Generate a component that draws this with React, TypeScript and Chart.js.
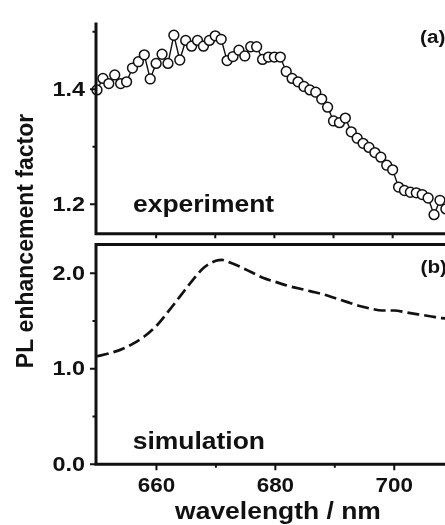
import React, { useEffect, useRef } from 'react';
import { Chart, registerables } from 'chart.js';

Chart.register(...registerables);

// Panel (a): measured PL enhancement, one reading per nm
const expWavelength = [
  650, 651, 652, 653, 654, 655, 656, 657, 658, 659,
  660, 661, 662, 663, 664, 665, 666, 667, 668, 669,
  670, 671, 672, 673, 674, 675, 676, 677, 678, 679,
  680, 681, 682, 683, 684, 685, 686, 687, 688, 689,
  690, 691, 692, 693, 694, 695, 696, 697, 698, 699,
  700, 701, 702, 703, 704, 705, 706, 707, 708, 709,
];
const expEnhancement = [
  1.399, 1.419, 1.41, 1.425, 1.41, 1.413, 1.437, 1.448, 1.46, 1.418,
  1.445, 1.461, 1.445, 1.494, 1.451, 1.485, 1.475, 1.485, 1.475, 1.485,
  1.493, 1.487, 1.45, 1.457, 1.468, 1.458, 1.474, 1.474, 1.452, 1.456,
  1.456, 1.456, 1.431, 1.419, 1.413, 1.405, 1.399, 1.395, 1.383, 1.369,
  1.345, 1.342, 1.35, 1.326, 1.315, 1.306, 1.299, 1.29, 1.282, 1.268,
  1.26, 1.23, 1.224, 1.221, 1.22, 1.217, 1.211, 1.182, 1.207, 1.192,
];

// Panel (b): simulated enhancement
const simWavelength = [
  650, 652, 654, 656, 658, 660, 662, 664, 666, 668, 670, 671, 672, 674, 676,
  678, 680, 682, 684, 686, 688, 690, 692, 694, 696, 698, 700, 702, 704, 706, 708, 710,
];
const simEnhancement = [
  1.13, 1.16, 1.2, 1.26, 1.34, 1.45, 1.6, 1.76, 1.92, 2.06, 2.13, 2.14, 2.12, 2.07, 2.01,
  1.95, 1.91, 1.87, 1.84, 1.81, 1.78, 1.74, 1.7, 1.66, 1.63, 1.61, 1.61, 1.59, 1.57, 1.55, 1.53, 1.52,
];

// Axis ranges and ticks
const xRange = [650, 712];
const xMajorTicks = [660, 680, 700];
const xMinorTicks = [670, 690, 710];
const expRange = [1.1489, 1.5162];
const expMajorTicks = [1.2, 1.4];
const expMinorTicks = [1.3, 1.5];
const simRange = [0, 2.3];
const simMajorTicks = [0, 1, 2];
const simMinorTicks = [0.5, 1.5];

const INK = '#111';
const FONT = '"Liberation Sans", Arial, Helvetica, sans-serif';
const W = 470;
const H = 525;

function drawText(
  ctx: CanvasRenderingContext2D,
  text: string,
  x: number,
  y: number,
  size: number,
  align: CanvasTextAlign,
  baseline: CanvasTextBaseline,
  sx = 1.15,
) {
  ctx.save();
  ctx.font = `bold ${size}px ${FONT}`;
  ctx.fillStyle = INK;
  ctx.textAlign = align;
  ctx.textBaseline = baseline;
  ctx.translate(x, y);
  ctx.scale(sx, 1);
  ctx.fillText(text, 0, 0);
  ctx.restore();
}

type Frame = {
  yMajor: number[];
  yMinor: number[];
  xLabels: boolean;
  topBorder: boolean;
  xMajorLen: number;
  xMinorLen: number;
  notes: { text: string; x: number; y: number; size: number; align: CanvasTextAlign }[];
  yTitle?: boolean;
  xTitle?: boolean;
};

function framePlugin(frame: Frame) {
  return {
    id: 'panelFrame',
    afterDatasetsDraw(chart: any) {
      const { ctx, chartArea: a, scales } = chart;
      const xs = scales.x;
      const ys = scales.y;
      const axisX = a.left - 1;
      ctx.save();
      ctx.strokeStyle = INK;
      ctx.lineCap = 'butt';

      // axis lines
      ctx.lineWidth = 3;
      ctx.beginPath();
      ctx.moveTo(axisX, a.top);
      ctx.lineTo(axisX, a.bottom + 1.5);
      ctx.moveTo(axisX - 1.5, a.bottom);
      ctx.lineTo(chart.width, a.bottom);
      if (frame.topBorder) {
        ctx.moveTo(axisX - 1.5, a.top);
        ctx.lineTo(chart.width, a.top);
      }
      ctx.stroke();

      // y ticks
      ctx.lineWidth = 2;
      ctx.beginPath();
      frame.yMajor.forEach((v) => {
        const py = ys.getPixelForValue(v);
        ctx.moveTo(axisX - 6, py);
        ctx.lineTo(axisX, py);
      });
      frame.yMinor.forEach((v) => {
        const py = ys.getPixelForValue(v);
        ctx.moveTo(axisX - 3.5, py);
        ctx.lineTo(axisX, py);
      });
      // x ticks
      xMajorTicks.forEach((v) => {
        const px = xs.getPixelForValue(v);
        ctx.moveTo(px, a.bottom);
        ctx.lineTo(px, a.bottom + frame.xMajorLen);
      });
      xMinorTicks.forEach((v) => {
        const px = xs.getPixelForValue(v);
        ctx.moveTo(px, a.bottom);
        ctx.lineTo(px, a.bottom + frame.xMinorLen);
      });
      ctx.stroke();
      ctx.restore();

      // tick labels
      frame.yMajor.forEach((v) => {
        drawText(ctx, v.toFixed(1), 85, ys.getPixelForValue(v) + 1, 20, 'right', 'middle', 1.17);
      });
      if (frame.xLabels) {
        xMajorTicks.forEach((v) => {
          drawText(ctx, String(v), xs.getPixelForValue(v), 492, 20, 'center', 'alphabetic', 1.12);
        });
      }
    },
    afterDraw(chart: any) {
      const { ctx } = chart;
      frame.notes.forEach((n) => drawText(ctx, n.text, n.x, n.y, n.size, n.align, 'alphabetic'));
      if (frame.xTitle) {
        drawText(ctx, 'wavelength / nm', 278, 519, 23, 'center', 'alphabetic');
      }
      if (frame.yTitle) {
        ctx.save();
        ctx.font = `bold 23px ${FONT}`;
        ctx.fillStyle = INK;
        ctx.textAlign = 'center';
        ctx.textBaseline = 'alphabetic';
        ctx.translate(33, 241);
        ctx.rotate(-Math.PI / 2);
        ctx.fillText('PL enhancement factor', 0, 0);
        ctx.restore();
      }
    },
  };
}

function baseScales(yMin: number, yMax: number, xHeight: number) {
  return {
    x: {
      type: 'linear' as const,
      min: xRange[0],
      max: xRange[1],
      grid: { display: false },
      border: { display: false },
      ticks: { display: false },
      afterFit: (s: any) => {
        s.height = xHeight;
      },
    },
    y: {
      type: 'linear' as const,
      min: yMin,
      max: yMax,
      grid: { display: false },
      border: { display: false },
      ticks: { display: false },
      afterFit: (s: any) => {
        s.width = 97;
      },
    },
  };
}

export default function App() {
  const topRef = useRef<HTMLCanvasElement>(null);
  const botRef = useRef<HTMLCanvasElement>(null);

  useEffect(() => {
    const top = new Chart(topRef.current as HTMLCanvasElement, {
      type: 'line',
      data: {
        datasets: [
          {
            data: expWavelength.map((x, i) => ({ x, y: expEnhancement[i] })),
            borderColor: INK,
            borderWidth: 1.4,
            pointRadius: 4.9,
            pointBorderWidth: 1.5,
            pointBackgroundColor: '#fff',
            pointBorderColor: INK,
            tension: 0,
            clip: false as any,
          },
        ],
      },
      options: {
        responsive: false,
        animation: false,
        devicePixelRatio: 1,
        layout: { padding: { top: 22.5, left: 0, right: 4.4, bottom: 0 } },
        plugins: { legend: { display: false }, tooltip: { enabled: false } },
        scales: baseScales(expRange[0], expRange[1], H - 233.7) as any,
      },
      plugins: [
        framePlugin({
          yMajor: expMajorTicks,
          yMinor: expMinorTicks,
          xLabels: false,
          topBorder: false,
          xMajorLen: 4.5,
          xMinorLen: 4.5,
          notes: [
            { text: 'experiment', x: 133, y: 211.7, size: 23, align: 'left' },
            { text: '(a)', x: 420, y: 42.5, size: 18, align: 'left' },
          ],
        }),
      ],
    });

    const bot = new Chart(botRef.current as HTMLCanvasElement, {
      type: 'line',
      data: {
        datasets: [
          {
            data: simWavelength.map((x, i) => ({ x, y: simEnhancement[i] })),
            borderColor: INK,
            borderWidth: 2.7,
            borderDash: [12, 5],
            pointRadius: 0,
            cubicInterpolationMode: 'monotone',
            fill: false,
          },
        ],
      },
      options: {
        responsive: false,
        animation: false,
        devicePixelRatio: 1,
        layout: { padding: { top: 244.6, left: 0, right: 4.4, bottom: 0 } },
        plugins: { legend: { display: false }, tooltip: { enabled: false } },
        scales: baseScales(simRange[0], simRange[1], H - 464.2) as any,
      },
      plugins: [
        framePlugin({
          yMajor: simMajorTicks,
          yMinor: simMinorTicks,
          xLabels: true,
          topBorder: true,
          xMajorLen: 6,
          xMinorLen: 3.5,
          notes: [
            { text: 'simulation', x: 132.7, y: 449.3, size: 23, align: 'left' },
            { text: '(b)', x: 420.5, y: 273, size: 18, align: 'left' },
          ],
          yTitle: true,
          xTitle: true,
        }),
      ],
    });

    return () => {
      top.destroy();
      bot.destroy();
    };
  }, []);

  return (
    <div
      style={{
        position: 'fixed',
        left: 0,
        top: 0,
        width: 445,
        height: 525,
        overflow: 'hidden',
        background: '#fff',
      }}
    >
      <canvas ref={topRef} width={W} height={H} style={{ position: 'absolute', left: 0, top: 0 }} />
      <canvas ref={botRef} width={W} height={H} style={{ position: 'absolute', left: 0, top: 0 }} />
    </div>
  );
}
